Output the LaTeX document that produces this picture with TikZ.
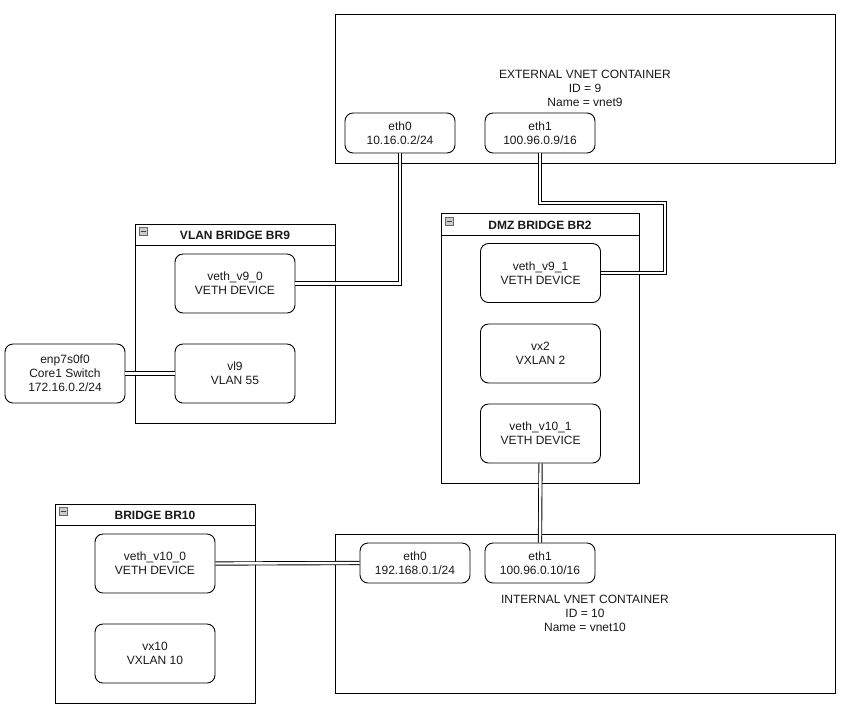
\documentclass[tikz,border=0pt]{standalone}
\usepackage{fontspec}
\setmainfont{Liberation Sans}
\begin{document}
\begin{tikzpicture}[x=1pt,y=-1pt,
  every node/.style={font=\fontsize{12}{14}\selectfont, text=black!90},
  box/.style={draw, line width=0.9pt, fill=white, inner sep=0pt},
  dev/.style={draw, line width=0.9pt, rounded corners=8pt, fill=white, align=center, minimum width=120pt, minimum height=59pt, inner sep=0pt},
  port/.style={dev, minimum width=110pt, minimum height=40pt},
  title/.style={font=\bfseries\fontsize{12}{14}\selectfont},
  minusicon/.style={draw=black!60, fill=black!20, line width=0.6pt, minimum size=8pt, inner sep=0pt,
    path picture={\draw[black!75, line width=0.9pt] ([xshift=1.5pt]path picture bounding box.west) -- ([xshift=-1.5pt]path picture bounding box.east);}},
  link/.style={double, line width=0.9pt, double distance=2.4pt},
]
\useasboundingbox (0,0) rectangle (842,713);

% External container
\node[box, minimum width=500pt, minimum height=149pt, align=center] (ext) at (585,88.5) {EXTERNAL VNET CONTAINER\\ID = 9\\Name = vnet9};
\node[port] (e9eth0) at (400,133) {eth0\\10.16.0.2/24};
\node[port] (e9eth1) at (540,133) {eth1\\100.96.0.9/16};

% VLAN bridge BR9
\node[box, minimum width=200pt, minimum height=199pt] (br9) at (235,323.5) {};
\draw[line width=0.9pt] ([yshift=-22pt]br9.north west) -- ([yshift=-22pt]br9.north east);
\node[title] (br9t) at (235,235) {VLAN BRIDGE BR9};
\node[minusicon] (br9m) at (143,231.5) {};
\node[dev] (v90) at (235,283.5) {veth\_v9\_0\\VETH DEVICE};
\node[dev] (vl9) at (235,373.5) {vl9\\VLAN 55};

\node[dev] (enp) at (65,373.5) {enp7s0f0\\Core1 Switch\\172.16.0.2/24};

% DMZ bridge BR2
\node[box, minimum width=198pt, minimum height=270pt] (br2) at (540,348) {};
\draw[line width=0.9pt] ([yshift=-23pt]br2.north west) -- ([yshift=-23pt]br2.north east);
\node[title] (br2t) at (540,225) {DMZ BRIDGE BR2};
\node[minusicon] (br2m) at (449,221) {};
\node[dev] (v91) at (540.5,273) {veth\_v9\_1\\VETH DEVICE};
\node[dev] (vx2) at (540.5,353.5) {vx2\\VXLAN 2};
\node[dev] (v101) at (540.5,433.5) {veth\_v10\_1\\VETH DEVICE};

% Bridge BR10
\node[box, minimum width=200pt, minimum height=199pt] (br10) at (155,603.5) {};
\draw[line width=0.9pt] ([yshift=-22pt]br10.north west) -- ([yshift=-22pt]br10.north east);
\node[title] (br10t) at (155,515) {BRIDGE BR10};
\node[minusicon] (br10m) at (63,511.5) {};
\node[dev] (v100) at (155,563.5) {veth\_v10\_0\\VETH DEVICE};
\node[dev] (vx10) at (155,653.5) {vx10\\VXLAN 10};

% Internal container
\node[box, minimum width=500pt, minimum height=159pt, align=center] (int) at (585,613.5) {INTERNAL VNET CONTAINER\\ID = 10\\Name = vnet10};
\node[port] (i10eth0) at (415,563) {eth0\\192.168.0.1/24};
\node[port] (i10eth1) at (540,563) {eth1\\100.96.0.10/16};

% Connectors
\draw[link] (e9eth0.south) |- (v90.east);
\draw[link] (e9eth1.south) |- (665,203) |- (v91.east);
\draw[link] (enp.east) -- (vl9.west);
\draw[link] (v101.south) -- (i10eth1.north);
\draw[link] (v100.east) -- (i10eth0.west);
\end{tikzpicture}
\end{document}
